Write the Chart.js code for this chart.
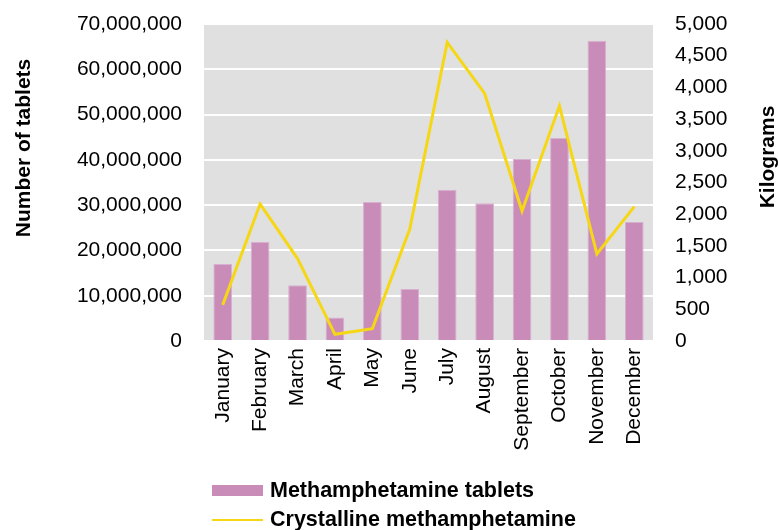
<!DOCTYPE html>
<html>
<head>
<meta charset="utf-8">
<script src="https://cdn.jsdelivr.net/npm/chart.js@4/dist/chart.umd.min.js"></script>
<style>
  html, body { margin: 0; padding: 0; background: #fff; }
  canvas { display: block; }
</style>
</head>
<body>
<canvas id="chart" width="779" height="530"></canvas>
<script>
const months = ["January", "February", "March", "April", "May", "June", "July",
    "August", "September", "October", "November", "December"];
const tablets = [17000000, 21900000, 12300000, 5200000, 30700000, 11500000,
    33400000, 30400000, 40200000, 44800000, 66300000, 26300000];
const crystalKg = [570, 2160, 1300, 105, 195, 1765, 4710, 3905, 2050, 3710, 1375, 2120];
const tabletTicks = [0, 10000000, 20000000, 30000000, 40000000, 50000000, 60000000, 70000000];
const kgTicks = [0, 500, 1000, 1500, 2000, 2500, 3000, 3500, 4000, 4500, 5000];

const FONT = "'Liberation Sans', Arial, sans-serif";
const barColor = "#c98cb9";
const lineColor = "#f5d716";

const fmt = (v) => Number(v).toLocaleString("en-US");

// grey plot background, axis titles and legend
const decor = {
    id: "decor",
    beforeDraw(chart) {
        const { ctx, chartArea: a } = chart;
        ctx.save();
        ctx.fillStyle = "#e0e0e0";
        ctx.fillRect(a.left, a.top, a.right - a.left, a.bottom - a.top);
        ctx.restore();
    },
    afterDraw(chart) {
        const { ctx } = chart;
        ctx.save();
        ctx.fillStyle = "#000";
        ctx.font = "bold 21px " + FONT;
        ctx.textAlign = "center";
        ctx.textBaseline = "middle";
        [["Number of tablets", 24, 148], ["Kilograms", 768, 157]].forEach(([t, x, y]) => {
            ctx.save();
            ctx.translate(x, y);
            ctx.rotate(-Math.PI / 2);
            ctx.fillText(t, 0, 0);
            ctx.restore();
        });

        // legend
        ctx.font = "bold 21.5px " + FONT;
        ctx.textAlign = "left";
        ctx.fillStyle = barColor;
        ctx.fillRect(212, 485, 51, 11);
        ctx.strokeStyle = lineColor;
        ctx.lineWidth = 2;
        ctx.beginPath();
        ctx.moveTo(212, 520);
        ctx.lineTo(263, 520);
        ctx.stroke();
        ctx.fillStyle = "#000";
        ctx.fillText(chart.data.datasets[1].label, 270, 491);
        ctx.fillText(chart.data.datasets[0].label, 270, 520);
        ctx.restore();
    }
};

// fixed axis sizes so the plot lands where the original's does
const fixWidth = (w) => (s) => {
    s.width = w;
    s.paddingTop = 0;
    s.paddingBottom = 0;
};

new Chart(document.getElementById("chart"), {
    type: "bar",
    data: {
        labels: months,
        datasets: [
            {
                type: "line",
                label: "Crystalline methamphetamine",
                data: crystalKg,
                yAxisID: "y1",
                borderColor: lineColor,
                borderWidth: 3,
                pointRadius: 0,
                tension: 0,
                order: 0,
            },
            {
                label: "Methamphetamine tablets",
                data: tablets,
                yAxisID: "y",
                backgroundColor: barColor,
                borderColor: "#d8b0cf",
                borderWidth: 1,
                barPercentage: 0.5,
                categoryPercentage: 1,
                order: 1,
            },
        ],
    },
    plugins: [decor],
    options: {
        responsive: false,
        animation: false,
        devicePixelRatio: 1,
        layout: { padding: { top: 24, left: 0, right: 0, bottom: 0 } },
        plugins: {
            legend: { display: false },
            tooltip: { enabled: false },
        },
        scales: {
            x: {
                grid: { display: false, drawTicks: false },
                border: { display: false },
                ticks: {
                    minRotation: 90,
                    maxRotation: 90,
                    padding: 7,
                    color: "#000",
                    font: { family: FONT, size: 21 },
                },
                afterFit(s) {
                    s.height = 189;
                    s.paddingLeft = 0;
                    s.paddingRight = 0;
                },
            },
            y: {
                position: "left",
                min: 0,
                max: 70000000,
                afterBuildTicks(s) { s.ticks = tabletTicks.map((v) => ({ value: v })); },
                grid: { color: "#ffffff", lineWidth: 2, drawTicks: false },
                border: { display: false },
                ticks: {
                    padding: 22,
                    color: "#000",
                    font: { family: FONT, size: 21 },
                    callback: fmt,
                },
                afterFit: fixWidth(204),
            },
            y1: {
                position: "right",
                min: 0,
                max: 5000,
                afterBuildTicks(s) { s.ticks = kgTicks.map((v) => ({ value: v })); },
                grid: { display: false, drawTicks: false },
                border: { display: false },
                ticks: {
                    padding: 22,
                    color: "#000",
                    font: { family: FONT, size: 21 },
                    callback: fmt,
                },
                afterFit: fixWidth(126),
            },
        },
    },
});
</script>
</body>
</html>
